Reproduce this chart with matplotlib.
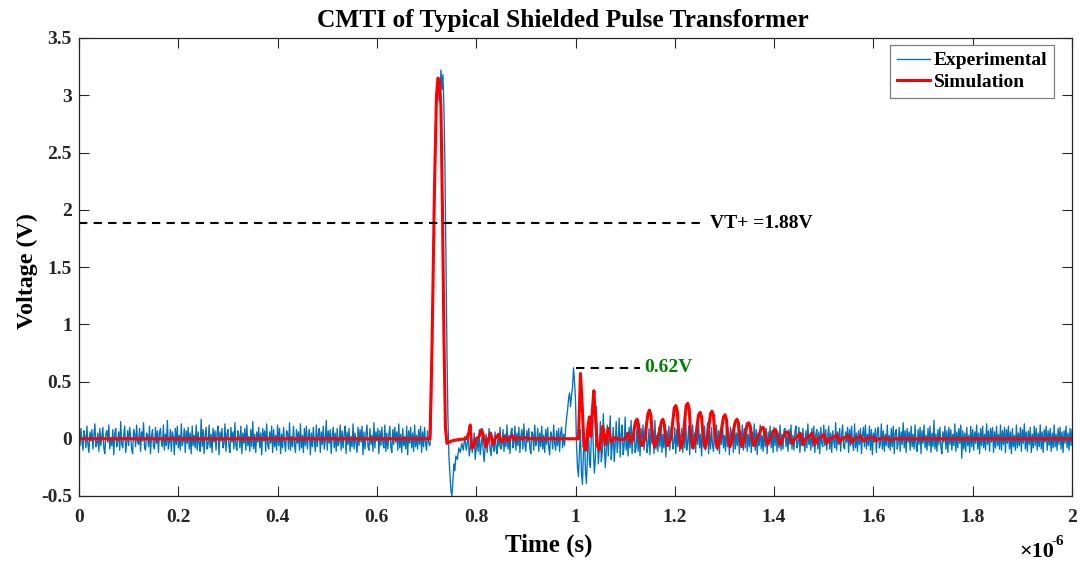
import numpy as np
import matplotlib.pyplot as plt

plt.rcParams['font.family'] = ['Liberation Serif', 'DejaVu Serif']
plt.rcParams['font.weight'] = 'bold'

# experimental trace (time in us, volts); noise samples typed in hundredths of a volt
dt = 0.002
exp_pre = [
    4, -6, 9, -3, -10, 7, 2, -8, 11, -5, -12, 6, -2, 8, -9, 3, 13, -7, -4, 5,
    -11, 9, -6, 2, 10, -8, -13, 4, 7, -3, 12, -9, 1, -6, 8, -14, 5, 9, -7, -2,
    6, -10, 15, -5, -8, 3, 11, -12, -4, 7, -6, 10, 2, -9, -13, 8, 4, -7, 12, -3,
    -5, 9, -11, 6, -2, 14, -8, -10, 5, 3, -7, 11, -13, 2, 8, -6, -9, 10, -4, 7,
    -12, 5, 9, -3, -7, 12, -10, 4, -6, 16, -9, -3, 8, -11, 6, 2, -14, 9, -5, 11,
    -8, 3, -10, 13, -6, -2, 9, -12, 7, -4, 10, -9, 5, -13, 11, -6, 3, -8, 12, -10,
    6, -4, -11, 17, -7, 8, -13, 3, 10, -9, -5, 12, -8, 4, -12, 9, -3, 7, -10, 5,
    11, -14, 6, -2, 9, -8, -5, 13, -11, 4, 8, -7, -12, 10, -3, 6, -9, 14, -6, -10,
    7, 3, -8, 11, -13, 5, -4, 9, -10, 12, -6, 2, -11, 8, -7, 15, -9, 4, -12, 6,
    -3, 10, -8, 5, -14, 9, -2, 7, -11, 13, -5, -9, 6, -4, 11, -12, 8, -7, 3, -10,
    12, -6, 9, -13, 4, -8, 10, -3, -11, 7, 5, -9, 14, -10, 2, -7, 11, -5, -12, 8,
    -4, 6, -10, 13, -8, 3, -12, 9, -6, 11, -9, 2, 8, -14, 5, -7, 10, -3, -11, 12,
    -7, 4, 9, -12, 6, -5, 11, -9, -2, 16, -10, 7, -4, 8, -13, 3, 10, -8, 5, -11,
    9, -6, -3, 12, -10, 7, -8, 4, 11, -13, 6, -5, 9, -11, 2, -7, 13, -9, 5, -4,
    -12, 10, -6, 8, -3, 11, -14, 6, -9, 4, 12, -7, -10, 9, -5, 3, -11, 14, -8, 6,
    -2, 9, -13, 7, -6, 10, -4, -8, 12, -11, 5, -9, 3, 11, -7, -12, 8, -5, 10, -3,
    6, -10, 13, -8, 4, -12, 9, -6, 2, -9, 11, -14, 7, -4, 10, -8, 5, -11, 12, -7,
    3, -9, 8, -5, 11, -12, 6, -7, 10, -4, -10, 7, -3, -6]
pulse_t = [0.707, 0.709, 0.711, 0.713, 0.715, 0.717, 0.719, 0.721, 0.723, 0.725, 0.727, 0.729, 0.731, 0.733,
           0.735, 0.737, 0.739, 0.741, 0.743, 0.745, 0.747, 0.749, 0.751, 0.753, 0.755, 0.757, 0.759, 0.762,
           0.765, 0.768, 0.771, 0.774, 0.777]
pulse_v = [-0.05, 0.1, 0.6, 1.2, 1.9, 2.5, 2.9, 3.05, 2.95, 3.15, 3.0, 3.22, 3.05, 3.18,
           2.9, 2.4, 1.6, 0.8, 0.2, -0.15, -0.3, -0.45, -0.5, -0.38, -0.22, -0.28, -0.15, -0.18,
           -0.08, -0.12, -0.04, -0.1, 0.02]
post_start = 0.78
exp_post = [
    # 0.78 - 0.85
    -10, -4, 3, -15, -8, 2, -12, -6, 5, -18, -9, 0, -11, 8, -14, -5, 3, -10, -20, -7,
    4, -12, -3, 9, -9, -15, 2, -6, -11, 6, -8, -13, 4, -7, 10, -9,
    # 0.852 - 0.978
    -5, 8, -11, 4, -7, 12, -9, 3, -13, 6, 9, -8, -4, 11, -10, 5, -6, 10, -12, 2,
    8, -9, 13, -5, -11, 7, -3, 9, -8, -13, 6, 4, -10, 12, -6, -2, 9, -11, 5, -7,
    11, -9, 3, -12, 8, -5, 10, -7, -14, 6, 2, -9, 12, -4, -10, 7, -6, 9, -11, 5,
    10, -8, 4, -6,
    # 0.98 - 1.0
    8, 18, 25, 35, 40, 28, 38, 45, 62, 50, 35,
    # 1.002 - 1.12
    -5, -25, -33, -10, 8, -30, -40, -12, 5, -28, -39, -15, 12, -20, -25, 5, 20, -10, -30, -18,
    28, 5, -22, -8, 15, -20, -12, 22, -5, -25, -10, 12, -15, 3, 20, -18, -6, 10, -20, -5,
    15, -12, -2, 18, -16, 4, 12, -14, -6, 19, -10, 5, -15, 10, -8, 16, -13, 2, 11, -12,
    # 1.122 - 1.42
    -8, 13, -11, 6, -15, 9, -3, 12, -10, 5, 14, -12, -6, 9, -14, 11, -4, 7, -13, 16,
    -9, 3, -11, 10, -7, 15, -12, 4, -8, 12, -16, 7, -5, 11, -10, 6, 13, -9, -4, 10,
    -13, 8, -7, 14, -11, 2, 9, -12, 6, -8, 17, -10, -3, 11, -14, 7, -6, 12, -9, 5,
    -12, 10, -5, 13, -8, 4, -15, 9, -7, 11, -10, 3, 14, -13, 6, -9, 10, -6, -11, 8,
    -4, 12, -10, 7, -13, 9, -5, 15, -8, 3, -11, 11, -7, 6, -14, 10, -3, 8, -12, 13,
    -9, 5, -6, 11, -13, 7, -4, 12, -10, 9, -8, 14, -11, 4, -7, 10, -12, 6, -5, 13,
    -10, 8, -14, 5, -6, 12, -9, 3, -11, 10, -7, 9, -13, 6, -4, 11, -8, 7, -12, 10,
    -6, 9, -11, 5, -8, 12, -10, 4, -9, 8,
    # 1.422 - 2.0
    9, -7, 4, -11, 8, -5, 12, -9, 3, -10, 6, 11, -8, -4, 10, -12, 5, -6, 9, -3,
    -11, 7, -8, 13, -5, 2, -10, 9, -7, 11, -12, 4, 8, -9, 6, -13, 10, -4, -7, 12,
    -6, 8, -10, 3, 11, -9, 5, -12, 7, -2, -8, 14, -10, 6, -5, 9, -11, 4, 12, -7,
    -9, 6, -3, 10, -12, 8, -6, 11, -4, -10, 13, -8, 5, -11, 7, -5, 9, -13, 3, 10,
    -7, 12, -9, 4, -6, 11, -10, 8, -14, 5, -3, 9, -12, 6, 10, -8, -5, 13, -9, 7,
    -11, 4, -6, 12, -8, 3, -10, 9, -7, 11, -13, 5, 8, -9, -4, 10, -11, 6, -5, 14,
    -8, 7, -12, 9, -3, 6, -10, 11, -7, 4, -9, 12, -6, -11, 8, -5, 10, -13, 7, -4,
    12, -8, 3, -10, 9, -6, 11, -12, 5, -7, 16, -9, 4, -11, 8, -5, 10, -8, -13, 6,
    -3, 11, -9, 7, -12, 10, -5, 8, -10, 4, -6, 13, -11, 6, -8, 9, -4, 12, -17, 7,
    -9, 5, -11, 10, -6, 3, -12, 11, -7, 8, -10, 6, -4, 12, -9, 5, -13, 9, -6, 11,
    -8, 4, -10, 13, -5, 7, -11, 9, -3, 10, -12, 6, -8, 11, -6, 4, -9, 12, -10, 7,
    -5, 10, -12, 8, -4, 11, -9, 6, -13, 9, -7, 3, -10, 12, -8, 5, -6, 10, -11, 8,
    -4, 13, -9, 6, -11, 7, -5, 10, -12, 4, -8, 11, -6, 9, -10, 5, -7, 12, -9, 6,
    -12, 8, -3, 11, -10, 7, -6, 9, -11, 5, -8, 12, -7, 4, -10, 9, -5, 10, -9, 6,
    -12, 7, -4, 11, -8, 5, -10, 9, -6, 8]

# simulation trace (time in us, volts)
sim_t = [0, 0.707, 0.711, 0.716, 0.720, 0.723, 0.726, 0.729, 0.732, 0.735, 0.738, 0.741, 0.745, 0.750, 0.760,
         0.780, 0.785, 0.788, 0.791, 0.795, 0.800, 0.806, 0.811, 0.815, 0.819, 0.824, 0.829, 0.834, 0.838,
         0.845, 0.851, 0.857, 0.864, 0.872, 0.878, 0.885, 0.893, 0.900, 0.910, 0.920,
         1.006, 1.010, 1.014, 1.017, 1.021, 1.025, 1.028, 1.031, 1.034, 1.037, 1.040, 1.044, 1.048, 1.052,
         1.055, 1.060, 1.063, 1.066, 1.072, 1.080, 1.090, 1.100, 1.106, 1.112, 1.116,
         1.118, 1.121, 1.124, 1.127, 1.130, 1.134, 1.140,
         1.143, 1.146, 1.149, 1.152, 1.155, 1.159, 1.165,
         1.170, 1.173, 1.176, 1.179, 1.182, 1.186, 1.192,
         1.196, 1.199, 1.202, 1.205, 1.208, 1.212, 1.217,
         1.220, 1.223, 1.226, 1.229, 1.232, 1.236, 1.242,
         1.245, 1.248, 1.251, 1.254, 1.257, 1.261, 1.266,
         1.269, 1.272, 1.275, 1.278, 1.281, 1.285, 1.291,
         1.295, 1.298, 1.301, 1.304, 1.307, 1.311, 1.316,
         1.319, 1.322, 1.325, 1.328, 1.331, 1.335, 1.340,
         1.343, 1.346, 1.349, 1.352, 1.355, 1.359, 1.365,
         1.371, 1.374, 1.377, 1.380, 1.383, 1.387, 1.392,
         1.396, 1.399, 1.402, 1.405, 1.408, 1.412, 1.417,
         1.420, 1.423, 1.426, 1.429, 1.432, 1.436, 1.442,
         1.449, 1.452, 1.458, 1.463, 1.473, 1.476, 1.482, 1.487,
         1.497, 1.500, 1.506, 1.511, 1.523, 1.526, 1.532, 1.537,
         1.547, 1.550, 1.556, 1.561, 1.571, 1.574, 1.580, 1.585,
         1.597, 1.600, 1.606, 1.611, 1.622, 1.625, 1.631, 1.640, 2.0]
sim_v = [0, 0, 0.8, 2.2, 3.0, 3.15, 3.12, 2.9, 2.0, 0.9, 0.1, -0.04, -0.03, -0.02, -0.01,
         0, 0.05, 0.12, -0.08, -0.07, 0.0, 0.02, 0.08, 0.02, -0.07, -0.01, 0.05, -0.05, 0.0,
         0.04, -0.03, 0.02, -0.02, 0.03, -0.01, 0.01, 0.0, 0.01, 0.0, 0.0,
         0.0, 0.57, 0.25, -0.07, -0.1, 0.1, 0.19, 0.02, 0.25, 0.42, 0.2, -0.06, -0.1, 0.02,
         0.11, -0.05, 0.02, 0.09, -0.03, 0.01, -0.01, 0.0, 0.05, -0.03, 0.0,
         0.08, 0.15, 0.17, 0.12, -0.02, -0.06, 0.0,
         0.12, 0.22, 0.25, 0.2, 0.02, -0.07, 0.0,
         0.08, 0.15, 0.17, 0.12, -0.02, -0.06, 0.0,
         0.15, 0.27, 0.29, 0.24, 0.03, -0.08, 0.0,
         0.16, 0.29, 0.31, 0.26, 0.03, -0.08, 0.0,
         0.12, 0.21, 0.23, 0.19, 0.02, -0.08, 0.0,
         0.12, 0.22, 0.24, 0.2, 0.02, -0.08, 0.0,
         0.11, 0.19, 0.21, 0.17, 0.01, -0.07, 0.0,
         0.09, 0.15, 0.17, 0.14, 0.01, -0.07, 0.0,
         0.07, 0.12, 0.14, 0.11, 0.0, -0.06, 0.0,
         0.05, 0.09, 0.10, 0.08, 0.0, -0.05, 0.0,
         0.04, 0.07, 0.08, 0.06, 0.0, -0.05, 0.0,
         0.03, 0.05, 0.06, 0.05, 0.0, -0.04, 0.0,
         0.03, 0.05, -0.05, 0.0, 0.03, 0.05, -0.05, 0.0,
         0.02, 0.04, -0.04, 0.0, 0.02, 0.035, -0.03, 0.0,
         0.02, 0.03, -0.03, 0.0, 0.015, 0.025, -0.02, 0.0,
         0.01, 0.015, -0.015, 0.0, 0.005, 0.01, -0.01, 0.0, 0.0]

vt_level = 1.88
vt_end = 1.25
ring_level = 0.62
ring_x = [1.0, 1.13]
x_ticks = [0, 0.2, 0.4, 0.6, 0.8, 1.0, 1.2, 1.4, 1.6, 1.8, 2.0]
y_ticks = [-0.5, 0, 0.5, 1, 1.5, 2, 2.5, 3, 3.5]

t_pre = dt * np.arange(len(exp_pre))
t_post = post_start + dt * np.arange(len(exp_post))
t_exp = np.concatenate([t_pre, pulse_t, t_post])
v_exp = np.concatenate([np.array(exp_pre) / 100, pulse_v, np.array(exp_post) / 100])

fig = plt.figure(figsize=(10.8, 5.61), dpi=100)
ax = fig.add_axes([79 / 1080, 65 / 561, 993 / 1080, 458 / 561])

ax.plot(t_exp, v_exp, color='#0072BD', lw=0.95, label='Experimental')
ax.plot(sim_t, sim_v, color='red', lw=2.2, label='Simulation')

ax.plot([0, vt_end], [vt_level, vt_level], color='black', ls='--', lw=1.5, dashes=(4, 3))
ax.text(vt_end + 0.02, vt_level, 'VT+ =1.88V', fontsize=14, fontweight='bold', va='center', ha='left')
ax.plot(ring_x, [ring_level, ring_level], color='black', ls='--', lw=1.5, dashes=(4, 3))
ax.text(ring_x[1] + 0.008, ring_level, '0.62V', fontsize=14, fontweight='bold', color='#008000',
        va='center', ha='left')

ax.set_xlim(0, 2)
ax.set_ylim(-0.5, 3.5)
ax.set_xticks(x_ticks)
ax.set_xticklabels(['%g' % v for v in x_ticks])
ax.set_yticks(y_ticks)
ax.set_yticklabels(['%g' % v for v in y_ticks])
ax.tick_params(direction='in', length=7, width=0.8, top=True, right=True, labelsize=14, colors='#262626')
ax.tick_params(axis='x', pad=9)
ax.tick_params(axis='y', pad=5)
for s in ax.spines.values():
    s.set_color('#262626')
    s.set_linewidth(0.9)

fig.text(549 / 1080, 1 - 545 / 561, 'Time (s)', fontsize=18, fontweight='bold', ha='center', va='center')
fig.text(27 / 1080, 1 - 271 / 561, 'Voltage (V)', fontsize=17.3, fontweight='bold', ha='center',
         va='center', rotation=90)
fig.text(563 / 1080, 1 - 20 / 561, 'CMTI of Typical Shielded Pulse Transformer', fontsize=18.3,
         fontweight='bold', ha='center', va='center')

fig.text(1019 / 1080, 1 - 557 / 561, '\u00d710', fontsize=16, fontweight='bold', va='baseline')
fig.text(1052 / 1080, 1 - 545 / 561, '-6', fontsize=11, fontweight='bold', va='baseline')

leg = ax.legend(loc='upper right', bbox_to_anchor=(1 - 18 / 993, 1 - 7 / 458), borderaxespad=0,
                fontsize=14, fancybox=False, edgecolor='#7f7f7f', framealpha=1, handlelength=1.7,
                handletextpad=0.2, borderpad=0.35, labelspacing=0.22)
leg.get_frame().set_linewidth(0.9)

fig.savefig('out.png', dpi=100)
